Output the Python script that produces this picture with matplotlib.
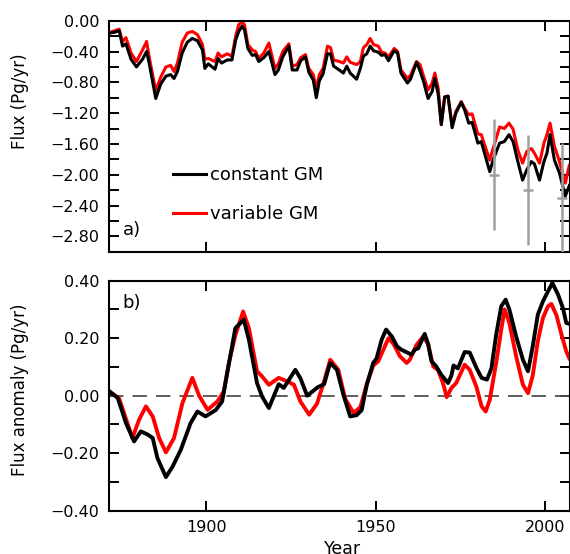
import numpy as np
import matplotlib
matplotlib.use('Agg')
import matplotlib.pyplot as plt
from matplotlib.ticker import MultipleLocator, FuncFormatter

plt.rcParams['font.family'] = 'DejaVu Sans'

# panel a) annual flux, constant vs variable GM
years_a = [1871.6, 1873.0, 1874.3, 1875.3, 1876.3, 1877.8, 1879.4, 1881.2, 1882.4, 1883.2,
           1885.1, 1886.6, 1888.1, 1889.5, 1890.5, 1891.5, 1892.9, 1894.4, 1895.9, 1897.4,
           1898.9, 1899.6, 1900.6, 1902.6, 1903.5, 1904.5, 1906.2, 1907.6, 1908.7, 1909.6,
           1910.6, 1911.3, 1912.3, 1913.6, 1914.6, 1915.5, 1917.0, 1918.5, 1920.3, 1921.3,
           1922.6, 1924.4, 1925.4, 1926.8, 1927.9, 1929.3, 1930.3, 1931.6, 1932.5, 1933.4,
           1934.5, 1935.8, 1936.7, 1937.6, 1939.3, 1940.5, 1941.5, 1942.5, 1944.4, 1945.5,
           1946.4, 1947.4, 1948.4, 1949.4, 1950.8, 1951.8, 1952.8, 1953.8, 1955.5, 1956.5,
           1957.5, 1959.4, 1960.3, 1962.1, 1963.1, 1964.1, 1965.5, 1966.7, 1967.5, 1968.5,
           1969.4, 1970.4, 1971.4, 1972.6, 1973.7, 1975.3, 1976.3, 1977.5, 1978.5, 1980.2,
           1981.2, 1983.7, 1984.7, 1986.6, 1988.0, 1989.4, 1990.6, 1992.0, 1993.4, 1994.6,
           1996.0, 1996.9, 1998.4, 1999.7, 2000.6, 2001.5, 2002.8, 2004.3, 2006.0, 2007.2]
const_a = [-0.16, -0.15, -0.13, -0.33, -0.30, -0.50, -0.60, -0.50, -0.40, -0.56,
           -1.01, -0.82, -0.72, -0.70, -0.75, -0.66, -0.42, -0.28, -0.23, -0.26,
           -0.38, -0.62, -0.56, -0.63, -0.49, -0.55, -0.51, -0.51, -0.25, -0.14,
           -0.07, -0.12, -0.36, -0.45, -0.44, -0.53, -0.48, -0.40, -0.70, -0.64,
           -0.47, -0.33, -0.64, -0.64, -0.52, -0.47, -0.67, -0.77, -1.00, -0.78,
           -0.69, -0.43, -0.43, -0.59, -0.64, -0.68, -0.59, -0.68, -0.76, -0.62,
           -0.46, -0.43, -0.33, -0.39, -0.41, -0.45, -0.44, -0.52, -0.39, -0.42,
           -0.68, -0.81, -0.76, -0.54, -0.65, -0.78, -1.01, -0.92, -0.75, -0.96,
           -1.35, -0.99, -0.98, -1.39, -1.20, -1.06, -1.16, -1.33, -1.32, -1.59,
           -1.57, -1.96, -1.81, -1.59, -1.57, -1.48, -1.57, -1.83, -2.07, -1.94,
           -1.83, -1.86, -2.07, -1.83, -1.72, -1.48, -1.81, -1.98, -2.28, -2.14]
var_a = [-0.15, -0.13, -0.11, -0.27, -0.22, -0.42, -0.53, -0.38, -0.27, -0.48,
         -0.91, -0.73, -0.60, -0.58, -0.66, -0.55, -0.28, -0.16, -0.14, -0.18,
         -0.31, -0.50, -0.49, -0.53, -0.42, -0.47, -0.43, -0.46, -0.20, -0.05,
         -0.02, -0.05, -0.31, -0.38, -0.40, -0.49, -0.42, -0.29, -0.62, -0.56,
         -0.40, -0.30, -0.59, -0.57, -0.48, -0.44, -0.62, -0.70, -0.88, -0.70,
         -0.62, -0.33, -0.35, -0.51, -0.53, -0.55, -0.47, -0.54, -0.57, -0.53,
         -0.35, -0.31, -0.23, -0.31, -0.33, -0.41, -0.42, -0.47, -0.36, -0.40,
         -0.64, -0.75, -0.71, -0.53, -0.57, -0.71, -0.90, -0.81, -0.68, -0.88,
         -1.35, -0.99, -0.98, -1.36, -1.18, -1.05, -1.14, -1.22, -1.21, -1.47,
         -1.48, -1.81, -1.66, -1.38, -1.40, -1.33, -1.41, -1.68, -1.85, -1.70,
         -1.66, -1.72, -1.85, -1.59, -1.48, -1.33, -1.63, -1.83, -2.11, -1.88]

# independent estimates with uncertainty (grey bars)
est_years = [1985, 1995, 2005]
est_vals = [-2.0, -2.2, -2.3]
est_err = [0.72, 0.71, 0.71]

# panel b) smoothed anomalies
years_bc = [1871.4, 1873.9, 1876.3, 1878.7, 1880.7, 1882.7, 1884.2, 1885.6, 1888.1, 1890.1,
            1892.5, 1895.4, 1897.4, 1899.8, 1902.8, 1904.7, 1906.2, 1908.6, 1911.1, 1912.6,
            1915.0, 1916.5, 1918.5, 1921.4, 1922.9, 1926.3, 1927.8, 1929.8, 1933.0, 1934.8,
            1936.6, 1938.6, 1940.5, 1942.5, 1944.4, 1945.9, 1947.4, 1949.3, 1950.3, 1951.8,
            1953.1, 1954.8, 1956.3, 1957.6, 1960.6, 1961.6, 1962.6, 1964.5, 1965.5, 1966.5,
            1967.9, 1969.4, 1971.4, 1972.4, 1973.0, 1974.3, 1976.3, 1977.8, 1979.8, 1981.3,
            1982.9, 1984.2, 1985.6, 1987.1, 1988.4, 1989.5, 1991.5, 1993.5, 1995.0, 1996.4,
            1997.9, 1999.4, 2000.9, 2002.2, 2003.9, 2005.3, 2006.3, 2007.2]
const_b = [0.015, -0.008, -0.095, -0.159, -0.124, -0.135, -0.147, -0.217, -0.283, -0.246,
           -0.188, -0.095, -0.055, -0.072, -0.050, -0.020, 0.079, 0.235, 0.264, 0.195,
           0.044, -0.003, -0.043, 0.040, 0.027, 0.090, 0.061, 0.000, 0.030, 0.040,
           0.114, 0.090, 0.003, -0.072, -0.068, -0.050, 0.038, 0.114, 0.130, 0.195,
           0.230, 0.206, 0.172, 0.160, 0.143, 0.160, 0.165, 0.215, 0.180, 0.120,
           0.102, 0.073, 0.044, 0.070, 0.105, 0.095, 0.152, 0.150, 0.096, 0.062,
           0.056, 0.095, 0.212, 0.311, 0.334, 0.300, 0.206, 0.125, 0.085, 0.172,
           0.282, 0.328, 0.363, 0.392, 0.351, 0.305, 0.253, 0.250]
years_bv = [1871.4, 1874.3, 1878.2, 1880.2, 1882.2, 1884.2, 1886.1, 1888.1, 1890.5, 1893.0,
            1895.9, 1897.9, 1900.4, 1903.3, 1905.2, 1906.7, 1908.6, 1910.9, 1912.6, 1915.0,
            1916.5, 1918.5, 1921.4, 1923.9, 1925.9, 1927.8, 1930.4, 1932.7, 1934.8, 1936.6,
            1939.0, 1941.0, 1943.5, 1945.5, 1947.4, 1949.3, 1950.8, 1953.8, 1955.3, 1957.2,
            1959.2, 1960.1, 1962.1, 1964.1, 1965.5, 1967.0, 1968.4, 1969.9, 1971.0, 1972.4,
            1973.8, 1976.3, 1977.8, 1979.8, 1981.3, 1982.5, 1983.7, 1985.6, 1987.1, 1988.1,
            1989.5, 1991.5, 1993.5, 1995.0, 1996.4, 1997.9, 1999.4, 2000.9, 2001.9, 2003.4,
            2004.9, 2006.3, 2007.2]
var_b = [0.015, -0.010, -0.147, -0.083, -0.037, -0.072, -0.147, -0.197, -0.147, -0.025,
         0.062, 0.000, -0.049, -0.020, 0.015, 0.114, 0.210, 0.293, 0.235, 0.085,
         0.067, 0.038, 0.062, 0.050, 0.038, -0.020, -0.066, -0.028, 0.050, 0.125,
         0.090, -0.010, -0.060, -0.040, 0.040, 0.105, 0.120, 0.200, 0.180, 0.137,
         0.114, 0.125, 0.177, 0.206, 0.180, 0.102, 0.090, 0.044, -0.005, 0.027,
         0.044, 0.108, 0.090, 0.030, -0.037, -0.055, -0.015, 0.114, 0.230, 0.300,
         0.253, 0.137, 0.038, 0.009, 0.070, 0.190, 0.270, 0.311, 0.319, 0.280,
         0.212, 0.154, 0.130]

W, H = 570, 554
fig = plt.figure(figsize=(W / 100, H / 100), dpi=100)
ax1 = fig.add_axes([109 / W, 1 - 251.7 / H, 461 / W, 231 / H])
ax2 = fig.add_axes([109 / W, 1 - 510.7 / H, 461 / W, 230 / H])


def fmt(v, pos):
    if abs(v) < 1e-9:
        v = 0.0
    return f"{v:.2f}".replace('-', '\u2212')


for ax in (ax1, ax2):
    ax.set_xlim(1871.3, 2007.4)
    ax.xaxis.set_major_locator(MultipleLocator(50))
    ax.tick_params(which='both', direction='in', top=True, right=True,
                   length=7.5, width=1.4, labelsize=11.5, pad=7)
    for s in ax.spines.values():
        s.set_linewidth(1.5)
    ax.yaxis.set_major_formatter(FuncFormatter(fmt))

# top panel
ax1.plot(years_a, var_a, color='#ff0000', lw=2.2, label='variable GM')
ax1.plot(years_a, const_a, color='black', lw=2.2, label='constant GM')
ax1.errorbar(est_years, est_vals, yerr=est_err, fmt='_', color='#a0a0a0',
             ecolor='#a0a0a0', elinewidth=1.8, capsize=0, markersize=6.5,
             markeredgewidth=1.8, zorder=5)
ax1.set_ylim(-3.0, 0.0)
ax1.yaxis.set_major_locator(MultipleLocator(0.4))
ax1.yaxis.set_minor_locator(MultipleLocator(0.2))
ax1.tick_params(axis='x', labelbottom=False)
ax1.text(0.03, 0.094, 'a)', transform=ax1.transAxes, fontsize=13, va='center')
h, l = ax1.get_legend_handles_labels()
ax1.legend(h[::-1], l[::-1], loc='upper left', bbox_to_anchor=(0.138, 0.37),
           frameon=False, fontsize=13, handlelength=1.85, handletextpad=0.2,
           labelspacing=1.17, borderpad=0, borderaxespad=0)

# bottom panel
ax2.axhline(0, color='#505050', lw=1.3, ls=(0, (8, 5)))
ax2.plot(years_bv, var_b, color='#ff0000', lw=2.8)
ax2.plot(years_bc, const_b, color='black', lw=2.8)
ax2.set_ylim(-0.4, 0.4)
ax2.yaxis.set_major_locator(MultipleLocator(0.2))
ax2.yaxis.set_minor_locator(MultipleLocator(0.1))
ax2.text(0.03, 0.903, 'b)', transform=ax2.transAxes, fontsize=13, va='center')

fig.text(20 / W, 1 - 101 / H, 'Flux (Pg/yr)', rotation=90, fontsize=12,
         ha='center', va='center')
fig.text(20 / W, 1 - 390 / H, 'Flux anomaly (Pg/yr)', rotation=90, fontsize=12,
         ha='center', va='center')
fig.text(343 / W, 1 - 539.5 / H, 'Year', fontsize=12.5, ha='center', va='top')

fig.savefig('out.png', dpi=100)
